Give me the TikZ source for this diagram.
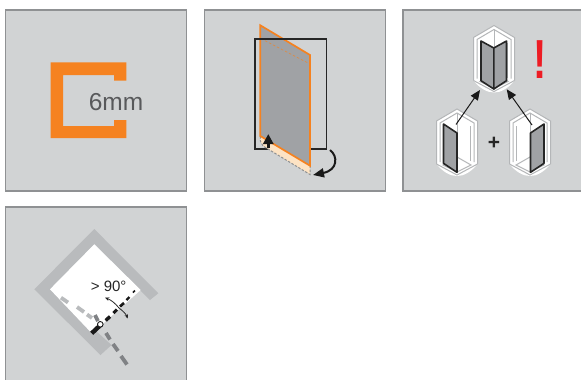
\documentclass[tikz,border=0pt]{standalone}
\usepackage{graphicx}
\usepackage{fontspec}
\setmainfont{Liberation Sans}
\usetikzlibrary{arrows.meta}
\definecolor{panelbg}{HTML}{D1D3D4}
\definecolor{panelline}{HTML}{8F9193}
\definecolor{brandorange}{HTML}{F58220}
\definecolor{glass}{HTML}{A0A2A5}
\definecolor{peach}{HTML}{FDE3C4}
\definecolor{wall}{HTML}{B9BBBD}
\definecolor{darkdash}{HTML}{808285}
\definecolor{alertred}{HTML}{ED1C24}
\definecolor{labelgray}{HTML}{58595B}
\definecolor{iconline}{HTML}{B4B6B8}
\tikzset{
  panelbox/.style={fill=panelbg,draw=panelline,line width=1.3pt},
  iconwall/.style={draw=iconline,line width=1pt},
  glasspane/.style={fill=glass,draw=black!85,line width=1.6pt,line join=round},
  bigarrow/.style={-{Triangle[length=10pt,width=8.5pt]},line width=1pt,draw=black!90},
  bolddash/.style={line width=#1,draw=black!90},
  lightdash/.style={line width=3.8pt,draw=wall},
  greydash/.style={line width=3.8pt,draw=darkdash},
  thinarc/.style={line width=0.8pt,draw=black!85,-{Stealth[length=4.2pt,width=3.6pt]}}
}
\newcommand{\showericon}[2]{%
  \begin{scope}[shift={(#1,#2)}]
    \fill[white] (0,0) -- (20.5,12) -- (20.5,55) .. controls (14,63) and (7,67) .. (0,67)
      .. controls (-7,67) and (-14,63) .. (-20.5,55) -- (-20.5,12) -- cycle;
    \draw[iconwall] (-20.5,55) -- (-20.5,12) -- (0,0) -- (20.5,12) -- (20.5,55);
    \draw[iconwall] (-17,53) -- (-17,14) -- (0,4) -- (17,14) -- (17,53);
    \draw[iconwall] (-13.5,52) -- (-13.5,17) (13.5,52) -- (13.5,17);
    \draw[iconwall] (0,4) -- (0,48);
    \draw[iconwall] (0,48) -- (14,56) -- (0,63) -- (-14,56) -- cycle;
    \draw[iconwall] (-20.5,55) -- (0,66) -- (20.5,55);
  \end{scope}}
\begin{document}
\begin{tikzpicture}[x=1pt,y=-1pt]
\useasboundingbox (0,0) rectangle (581,380);
\fill[white] (0,0) rectangle (581,380);
\clip (0,0) rectangle (581,380);
% panels
\draw[panelbox] (5.5,10) rectangle (186.5,191);
\draw[panelbox] (204.5,10) rectangle (385.5,191);
\draw[panelbox] (403,10) rectangle (590,191);
\draw[panelbox] (5.5,207) rectangle (186.5,390);
% panel 1
\fill[brandorange] (50.7,62.3) -- (126.3,62.3) -- (126.3,80.7) -- (114,80.7) -- (114,75) -- (63,75)
  -- (63,126) -- (114,126) -- (114,120) -- (126.3,120) -- (126.3,138) -- (50.7,138) -- cycle;
\node[text=labelgray,font=\fontsize{24.5}{24.5}\selectfont,inner sep=0pt] (sixmm) at (116,102) {6mm};
% panel 2
\draw[black!85,line width=1.6pt] (326.3,149) -- (254.7,149) -- (254.7,38.7) -- (326.3,38.7) -- cycle;
\fill[peach] (260.3,136) -- (310,165.7) -- (310,174.5) -- (263,146) -- (260.3,141) -- cycle;
\draw[panelline,line width=1pt,dash pattern=on 2.5pt off 1.5pt] (260.3,136) -- (260.3,141) -- (263,146) -- (310,174.5) -- (310,165.7);
\fill[glass] (260.3,25.3) -- (310,55) -- (310,165.7) -- (260.3,136) -- cycle;
\draw[brandorange!70!glass,line width=0.7pt,dash pattern=on 2.5pt off 2pt] (265,40.7) -- (308,63);
\draw[brandorange,line width=1.7pt,line join=miter] (260.3,25.3) -- (310,55) -- (310,165.7) -- (260.3,136) -- cycle;
\draw[black!85,line width=1.6pt] (254.7,38.7) -- (326.3,38.7);
\coordinate (upfrom) at (268.3,148);
\coordinate (upto) at (268.3,134);
\draw[-{Triangle[length=10pt,width=10pt]},line width=2.6pt,black!90] (upfrom) -- (upto);
\coordinate (turnfrom) at (330,150);
\coordinate (turnto) at (313,175);
\draw[-{Triangle[length=11pt,width=9pt]},line width=2pt,black!90] (turnfrom) .. controls (338,156) and (338,170) .. (turnto);
% panel 3
\showericon{494}{25.5}
\showericon{457}{109}
\showericon{530}{109}
% top icon panes
\draw[glasspane] (481,41) -- (493.8,48) -- (493.8,89) -- (481,80.7) -- cycle;
\draw[glasspane] (506.5,41) -- (493.8,48) -- (493.8,89) -- (506.5,80.7) -- cycle;
% lower icon panes
\draw[glasspane] (443.5,124) -- (457,133) -- (457,172.3) -- (443.5,163.3) -- cycle;
\draw[glasspane] (544,124) -- (530.5,133) -- (530.5,172.3) -- (544,163.3) -- cycle;
\coordinate (leftfrom) at (456,124.5);
\coordinate (lefttip) at (480,90);
\coordinate (rightfrom) at (532,125);
\coordinate (righttip) at (506.7,89.3);
\draw[bigarrow] (leftfrom) -- (lefttip);
\draw[bigarrow] (rightfrom) -- (righttip);
\node[font=\bfseries\fontsize{21}{21}\selectfont,text=black!85,inner sep=0pt] (plus) at (494,143) {+};
\node[font=\bfseries\fontsize{55}{55}\selectfont,text=alertred,inner sep=0pt] (alert) at (540.3,60) {\scalebox{0.72}[1]{!}};
% panel 4
\fill[wall] (94.3,229) -- (158.3,293.3) -- (150,300) -- (94.3,244.3) -- (50,289.3) -- (111.5,345) -- (100.5,355) -- (34.3,289.3) -- cycle;
\fill[white] (94.3,244.3) -- (140.7,290) -- (92,333.5) -- (50,289.3) -- cycle;
\draw[lightdash] (61,297.7) -- (68,302.5);
\draw[lightdash] (77,307) -- (84,312);
\draw[lightdash] (87,314.5) -- (92,318);
\draw[greydash] (95,315) -- (98,321);
\draw[greydash] (106,333) -- (110,339.5);
\draw[greydash] (113,344) -- (118,351);
\draw[greydash] (121,356) -- (127,364.5);
\node[font=\fontsize{15}{15}\selectfont,text=black!85,inner sep=0pt] (angle) at (108.7,286.5) {> 90°};
\coordinate (arcmid) at (119,308);
\coordinate (arcone) at (105,297.6);
\coordinate (arctwo) at (127.7,318.5);
\draw[thinarc] (arcmid) .. controls (115,303) and (111,300) .. (arcone);
\draw[thinarc] (arcmid) .. controls (123,311) and (126,314) .. (arctwo);
\draw[bolddash=4.4pt] (91.7,333.3) -- (100,325.5);
\draw[bolddash=3.4pt] (105.7,320.5) -- (110,316.5);
\draw[bolddash=3pt] (113.5,313) -- (117,309.5);
\draw[bolddash=2.7pt] (120,306.5) -- (124,303);
\draw[bolddash=2.3pt] (126.5,300) -- (129.5,297);
\draw[bolddash=1.6pt] (133,292.5) -- (135,290.5);
\node[circle,draw=black!90,fill=white,line width=0.9pt,minimum size=5.6pt,inner sep=0pt] (hinge) at (100.3,324.3) {};
\end{tikzpicture}
\end{document}
